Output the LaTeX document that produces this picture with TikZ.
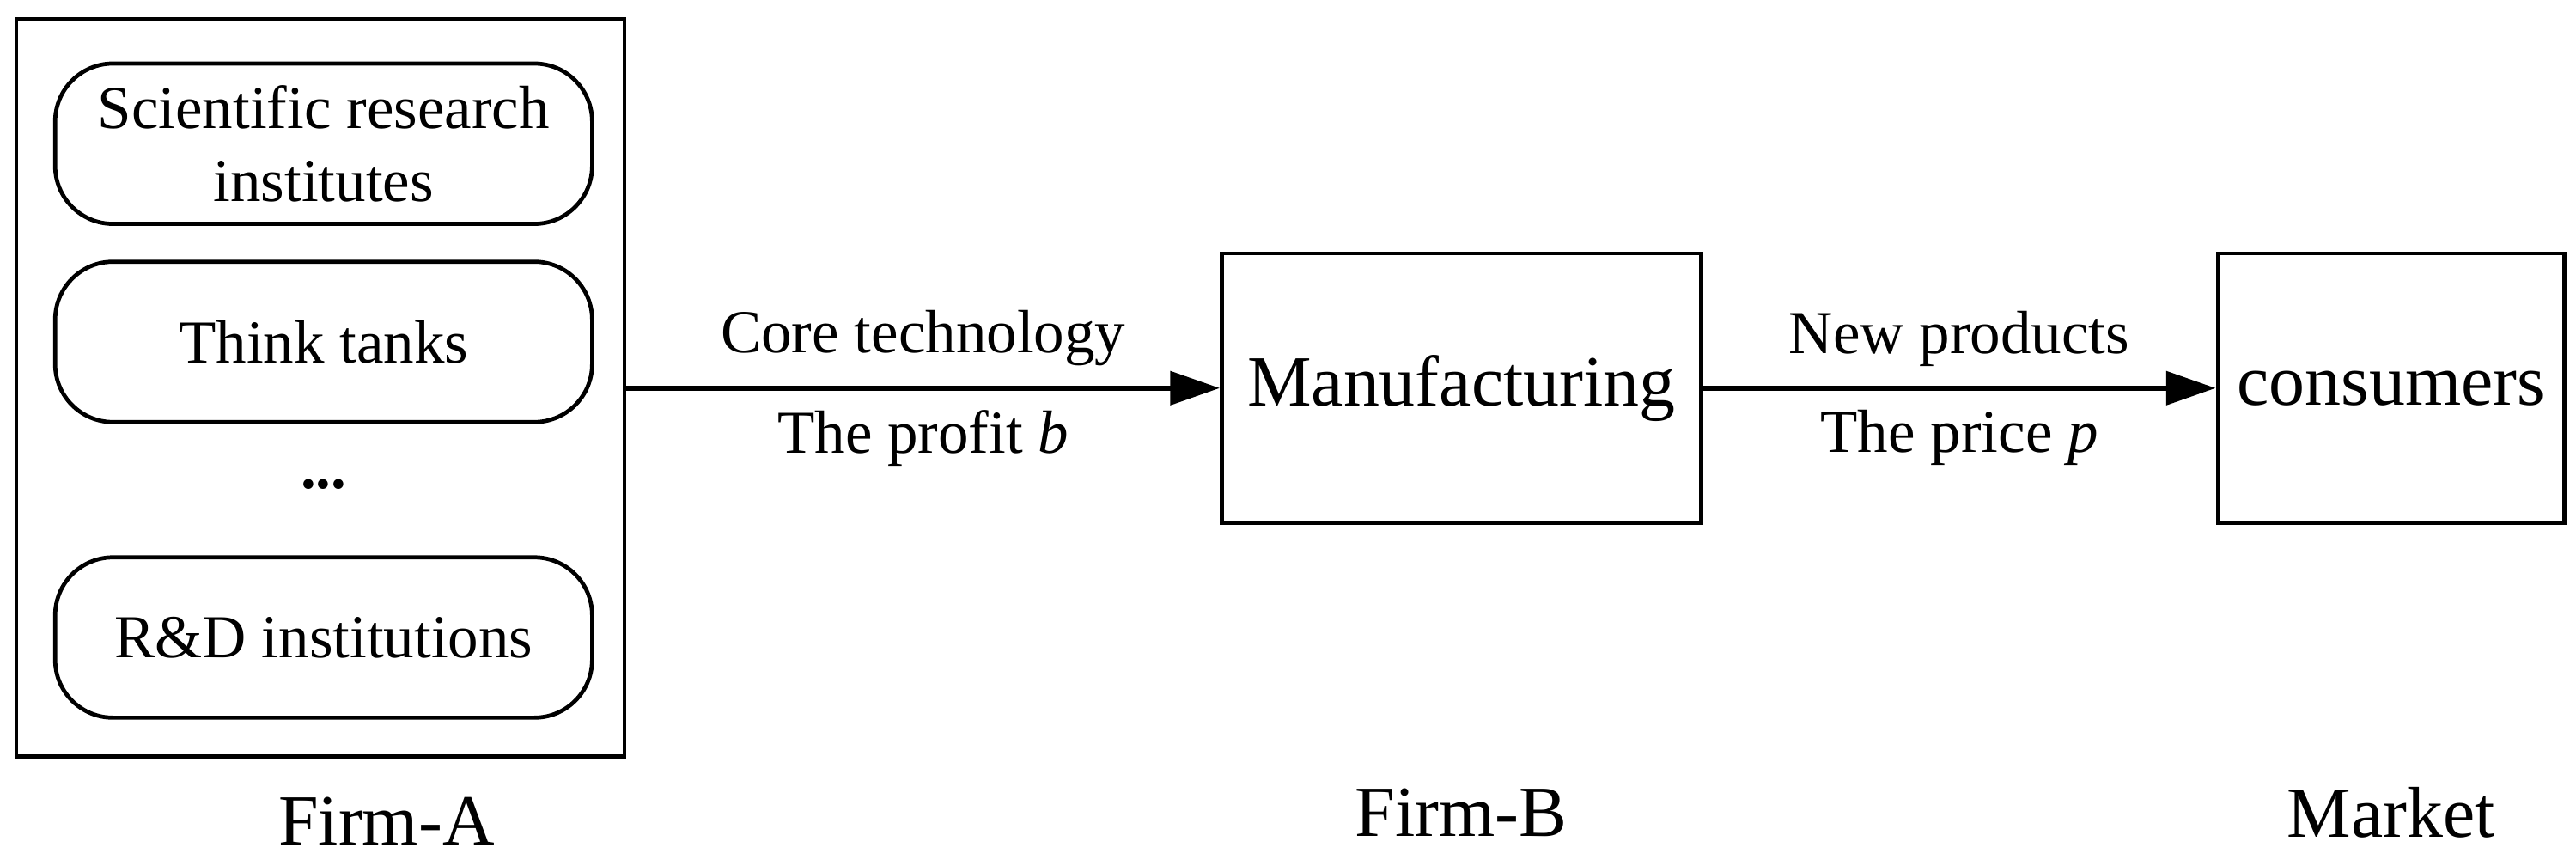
\documentclass[tikz,border=0pt]{standalone}
\usepackage{fontspec}
\setmainfont{Liberation Serif}
\usetikzlibrary{arrows.meta}
\begin{document}
\begin{tikzpicture}[x=0.01cm,y=-0.01cm,
  box/.style={draw,line width=0.7pt},
  rbox/.style={draw,line width=0.7pt,rounded corners=0.35cm,minimum width=3.25cm,minimum height=0.97cm,align=center,font=\fontsize{10.5pt}{12.5pt}\selectfont},
  lab/.style={font=\fontsize{10.5pt}{12pt}\selectfont},
  big/.style={font=\fontsize{12.4pt}{14pt}\selectfont},
  arr/.style={-{Triangle[length=0.3cm,width=0.2cm]},line width=0.9pt}]
\useasboundingbox (0,0) rectangle (1560,524);
\node[box,minimum width=3.68cm,minimum height=4.46cm] (A) at (194,235) {};
\node[rbox] (r1) at (196,87) {Scientific research\\institutes};
\node[rbox] (r2) at (196,207) {Think tanks};
\node[lab] (dots) at (196,293) {\textbf{...}};
\node[rbox] (r4) at (196,386) {R\&D institutions};
\node[box,big,minimum width=2.9cm,minimum height=1.63cm] (M) at (885,235) {Manufacturing};
\node[box,big,minimum width=2.03cm,minimum height=1.63cm] (C) at (1448,235) {consumers};
\draw[arr] (A.east |- M) -- node[lab,above=0pt]{Core technology} node[lab,below=0pt]{The profit \textit{b}} (M.west);
\draw[arr] (M.east) -- node[lab,above=0pt]{New products} node[lab,below=0pt]{The price \textit{p}} (C.west);
\node[big] (fa) at (234,497) {Firm-A};
\node[big] (fb) at (885,492) {Firm-B};
\node[big] (fm) at (1448,492) {Market};
\end{tikzpicture}
\end{document}
